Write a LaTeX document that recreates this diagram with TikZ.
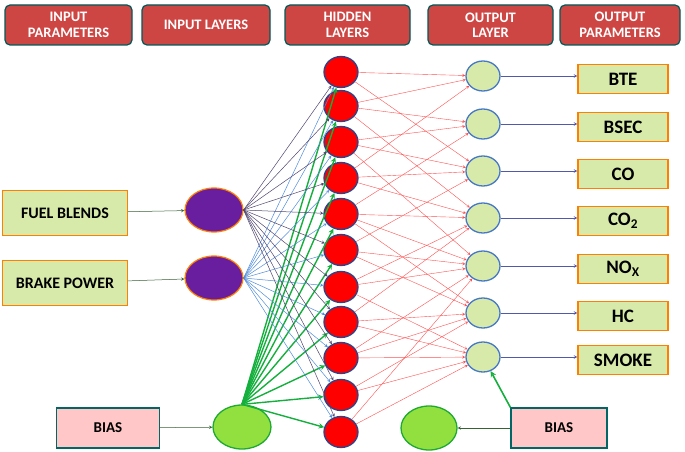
\documentclass[tikz,border=0pt]{standalone}
\usepackage{fontspec}
\setmainfont{Carlito}[BoldFont={Carlito Bold}]
\usetikzlibrary{shapes.geometric}
\begin{document}
\begin{tikzpicture}[x=1pt,y=-1pt,
 hdr/.style={draw=teal!70!black,line width=1.2pt,fill={rgb,255:red,205;green,70;blue,68},rounded corners=5pt,minimum height=40pt,text=white,font=\bfseries\fontsize{14.5}{15.5}\selectfont,align=center,inner sep=1pt},
 inbox/.style={draw=orange,line width=1.2pt,fill={rgb,255:red,215;green,234;blue,170},font=\bfseries\fontsize{16}{17}\selectfont,minimum height=45pt,inner sep=1pt},
 outbox/.style={draw=orange,line width=1.2pt,fill={rgb,255:red,215;green,234;blue,170},font=\bfseries\fontsize{19}{20}\selectfont,minimum width=90pt,minimum height=29pt,inner sep=1pt},
 biasbox/.style={draw=teal!80!black,line width=1.2pt,fill={rgb,255:red,255;green,199;blue,199},font=\bfseries\fontsize{15}{16}\selectfont,minimum height=40pt},
 hid/.style={ellipse,draw={rgb,255:red,40;green,70;blue,140},line width=1.3pt,fill=red,minimum width=34pt,minimum height=31pt,inner sep=0},
 outn/.style={ellipse,draw={rgb,255:red,70;green,120;blue,200},line width=1.3pt,fill={rgb,255:red,215;green,234;blue,170},minimum width=34pt,minimum height=30pt,inner sep=0},
 inn/.style={ellipse,draw=orange,line width=1.2pt,fill={rgb,255:red,105;green,30;blue,160},minimum width=58pt,minimum height=44pt,inner sep=0},
 bn/.style={ellipse,draw={rgb,255:red,30;green,170;blue,50},line width=1.3pt,fill={rgb,255:red,146;green,224;blue,64},minimum width=58pt,minimum height=44pt,inner sep=0},
 garr/.style={->,draw=gray!70!green!60!black,line width=0.5pt},
 >=stealth]
\useasboundingbox (0,0) rectangle (685,452);
\node[hdr,minimum width=127pt] (h1) at (68.5,25) {INPUT\\PARAMETERS};
\node[hdr,minimum width=128pt] (h2) at (206,25) {INPUT LAYERS};
\node[hdr,minimum width=125pt] (h3) at (347.5,25) {HIDDEN\\LAYERS};
\node[hdr,minimum width=125pt] (h4) at (490.5,25) {OUTPUT\\LAYER};
\node[hdr,minimum width=120pt] (h5) at (620,25) {OUTPUT\\PARAMETERS};
\node[inbox,minimum width=125pt] (fb) at (65,213) {FUEL BLENDS};
\node[inbox,minimum width=125pt] (bp) at (65,283) {BRAKE POWER};
\node[biasbox,minimum width=103pt] (b1) at (108,428) {BIAS};
\node[biasbox,minimum width=96pt] (b2) at (559,428) {BIAS};
\node[inn] (i1) at (214,210) {};
\node[inn] (i2) at (214,278) {};
\node[bn] (bi) at (242,427) {};
\node[bn,minimum width=56pt] (bo) at (429,428) {};
\foreach \y [count=\i] in {72,106,142,178,214,250,287,322,358,395,432}
  \node[hid] (n\i) at (341,\y) {};
\foreach \y/\t [count=\i] in {76/BTE,124/BSEC,171/CO,218/{CO\textsubscript{2}},266/{NO\textsubscript{X}},313/HC,357/SMOKE}{
  \node[outn] (o\i) at (483,\y) {};
  \node[outbox] (p\i) at (623,\y+3) {\t};
  \draw[->,draw={rgb,255:red,80;green,90;blue,170},line width=0.6pt] (o\i) -- (p\i.west|-o\i);}
\draw[garr] (fb) -- (i1);
\draw[garr] (bp) -- (i2);
\draw[garr] (b1) -- (bi);
\draw[garr] (b2) -- (bo);
\foreach \i in {1,...,11}{
  \draw[->,draw={rgb,255:red,80;green,70;blue,110},line width=0.5pt] (i1.east) -- (n\i);
  \draw[->,draw={rgb,255:red,80;green,140;blue,220},line width=0.5pt] (i2.east) -- (n\i);
  \draw[->,draw={rgb,255:red,20;green,175;blue,60},line width=1.4pt] (bi.north) -- (n\i);}
\foreach \i/\js in {1/{1,3},2/{1,2,4},3/{2,3,5},4/{1,3,4},5/{2,4,5,6},6/{3,5,6},7/{4,5,7},8/{4,6,7},9/{5,6,7},10/{6,7},11/{5,7}}
  \foreach \j in \js
    \draw[->,draw={rgb,255:red,255;green,80;blue,80},line width=0.4pt] (n\i) -- (o\j);
\draw[->,draw={rgb,255:red,20;green,175;blue,60},line width=1.6pt] (b2.north west) -- (o7);
\end{tikzpicture}
\end{document}
